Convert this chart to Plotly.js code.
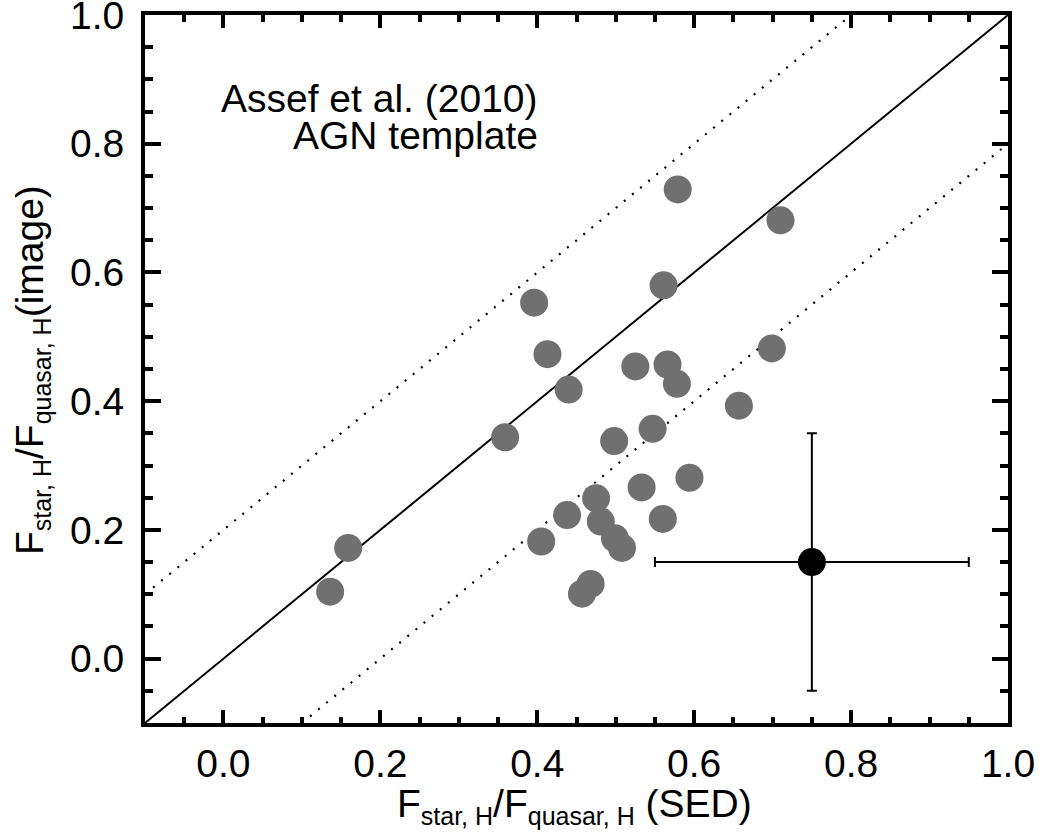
<!DOCTYPE html>
<html>
<head>
<meta charset="utf-8">
<script src="https://cdn.plot.ly/plotly-3.0.1.min.js"></script>
<style>html,body{margin:0;padding:0;background:#fff;}#chart{width:1044px;height:836px;}</style>
</head>
<body>
<div id="chart"></div>
<script>
// Gray points: F_star,H / F_quasar,H from SED fits (x) vs image decomposition (y)
var sedRatio   = [0.136, 0.159, 0.359, 0.396, 0.413, 0.440, 0.405, 0.438, 0.475, 0.481, 0.499, 0.508, 0.468, 0.457, 0.498, 0.525, 0.533, 0.547, 0.561, 0.566, 0.578, 0.560, 0.594, 0.579, 0.657, 0.699, 0.710];
var imageRatio = [0.104, 0.172, 0.344, 0.553, 0.473, 0.418, 0.182, 0.223, 0.249, 0.213, 0.187, 0.172, 0.116, 0.101, 0.338, 0.454, 0.266, 0.357, 0.580, 0.457, 0.427, 0.217, 0.281, 0.729, 0.393, 0.482, 0.681];

// Typical error point
var errX = [0.75];
var errY = [0.15];
var errXsize = [0.2];
var errYsize = [0.2];

// Reference lines y = x + offset (solid one-to-one, dotted +/-0.2)
var lineOffsets = [0, 0.2, -0.2];
var lineDashes = ['solid', '2px,8.5px', '2px,8.5px'];

var axisRange = [-0.1, 1.0];
var tickVals = [0.0, 0.2, 0.4, 0.6, 0.8, 1.0];
var tickText = ['0.0', '0.2', '0.4', '0.6', '0.8', '1.0'];
var noteLines = ['Assef et al. (2010)', 'AGN template'];
var xTitle = 'F<sub><span style="font-size:25px">star, H</span></sub>/F<sub><span style="font-size:25px">quasar, H</span></sub> (SED)';
var yTitle = 'F<sub><span style="font-size:25px">star, H</span></sub>/F<sub><span style="font-size:25px">quasar, H</span></sub>(image)';

var FONT = 'Liberation Sans, Arial, Helvetica, sans-serif';
var FS = 39;
var traces = [];
lineOffsets.forEach(function (d, i) {
  var x0 = Math.max(axisRange[0], axisRange[0] - d);
  var x1 = Math.min(axisRange[1], axisRange[1] - d);
  traces.push({
    x: [x0, x1], y: [x0 + d, x1 + d], mode: 'lines', type: 'scatter',
    line: {color: 'black', width: i === 0 ? 2 : 2.2, dash: lineDashes[i]},
    hoverinfo: 'skip', showlegend: false
  });
});
traces.push({
  x: sedRatio, y: imageRatio, mode: 'markers', type: 'scatter',
  marker: {size: 28, color: 'rgb(112,112,112)', line: {width: 0}},
  showlegend: false
});
traces.push({
  x: errX, y: errY, mode: 'markers', type: 'scatter',
  marker: {size: 28, color: 'black'},
  error_x: {type: 'data', array: errXsize, color: 'black', thickness: 2, width: 5},
  error_y: {type: 'data', array: errYsize, color: 'black', thickness: 2, width: 5},
  showlegend: false
});

function axis(len, minorLen) {
  return {
    range: axisRange, autorange: false,
    tickvals: tickVals, ticktext: tickText,
    ticks: 'inside', ticklen: len, tickwidth: 4, tickcolor: 'black',
    minor: {dtick: 0.05, tick0: 0, ticks: 'inside', ticklen: minorLen, tickwidth: 4, tickcolor: 'black', showgrid: false},
    showline: true, linewidth: 4, linecolor: 'black', mirror: 'allticks',
    showgrid: false, zeroline: false,
    ticklabeloverflow: 'allow',
    tickfont: {family: FONT, size: FS, color: 'black'}
  };
}

var xa = axis(13, 6.5);
var ya = axis(16, 8);
xa.ticklabelstandoff = 3;
ya.ticklabelstandoff = 9;

var txtFont = {family: FONT, size: FS, color: 'black'};
var layout = {
  width: 1044, height: 836,
  margin: {l: 145, r: 36, t: 15, b: 113, pad: 0},
  paper_bgcolor: 'white', plot_bgcolor: 'white',
  xaxis: xa, yaxis: ya,
  showlegend: false,
  annotations: [
    {text: noteLines[0], x: 0.4037, y: 0.871, xref: 'x', yref: 'y', xanchor: 'right', yanchor: 'middle', showarrow: false, font: txtFont},
    {text: noteLines[1], x: 0.4037, y: 0.813, xref: 'x', yref: 'y', xanchor: 'right', yanchor: 'middle', showarrow: false, font: txtFont},
    {text: xTitle, x: 0.498, y: -0.0825, xref: 'paper', yref: 'paper', xanchor: 'center', yanchor: 'top', borderpad: 0, showarrow: false, font: txtFont},
    {text: yTitle, x: -0.1591, y: 0.498, xref: 'paper', yref: 'paper', xanchor: 'left', yanchor: 'middle', textangle: -90, borderpad: 0, showarrow: false, font: txtFont}
  ]
};

Plotly.newPlot('chart', traces, layout, {staticPlot: true, displayModeBar: false});
</script>
</body>
</html>
